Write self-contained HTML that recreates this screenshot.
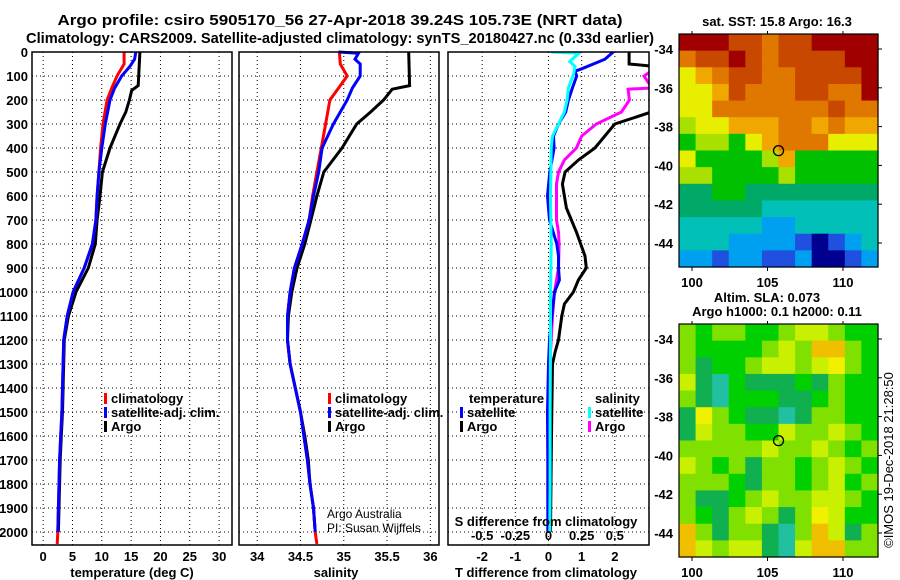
<!DOCTYPE html>
<html><head><meta charset="utf-8"><style>
html,body{margin:0;padding:0;background:#fff;}
svg{display:block;font-family:"Liberation Sans",sans-serif;}
.b{font-weight:bold;}
</style></head><body>
<svg id="s" width="900" height="580" viewBox="0 0 900 580">
<text x="340" y="25" text-anchor="middle" class="b" font-size="15" textLength="565" lengthAdjust="spacingAndGlyphs">Argo profile: csiro 5905170_56 27-Apr-2018 39.24S 105.73E (NRT data)</text>
<text x="340" y="43" text-anchor="middle" class="b" font-size="15" textLength="628" lengthAdjust="spacingAndGlyphs">Climatology: CARS2009. Satellite-adjusted climatology: synTS_20180427.nc (0.33d earlier)</text>
<g id="g"></g>
</svg>
<script>
// ---- data ----
const depthTicks=[0,100,200,300,400,500,600,700,800,900,1000,1100,1200,1300,1400,1500,1600,1700,1800,1900,2000];
const tempTicks=[0,5,10,15,20,25,30];
const salTicks=[34,34.5,35,35.5,36];
const tdiffTicks=[-2,-1,0,1,2];
const sdiffTicks=[-0.5,-0.25,0,0.25,0.5];
const sdiffTickLabels=["-0.5","-0.25","0","0.25","0.5"];
const tClimDepth=[0,50,100,150,200,300,400,500,600,700,800,900,1000,1100,1200,1300,1400,1500,1600,1700,1800,1900,2000,2050];
const tClim=[13.8,13.8,12.6,11.7,10.9,10.2,9.8,9.5,9.2,9.0,8.4,7.0,5.1,4.1,3.5,3.4,3.3,3.2,3.0,2.8,2.7,2.6,2.5,2.4];
const tSatDepth=[0,30,60,100,150,200,300,400,500,600,700,800,900,1000,1100,1200,1300,1400,1500,1600,1700,1800,1900,2000];
const tSat=[15.8,15.6,14.8,13.4,12.2,11.4,10.6,10.0,9.5,9.2,9.0,8.4,7.0,5.1,4.1,3.5,3.4,3.3,3.2,3.0,2.8,2.7,2.6,2.5];
const tArgoDepth=[0,140,160,200,250,300,400,500,600,700,800,900,1000,1100,1200,1300,1400,1500,1600,1700,1800,1900,2000];
const tArgo=[16.5,16.2,15.1,14.7,14.1,13.1,11.4,10.1,9.7,9.2,8.9,7.7,5.6,4.3,3.6,3.5,3.4,3.3,3.1,2.9,2.8,2.7,2.6];
const sClimDepth=[0,50,100,150,200,300,400,500,600,700,800,900,1000,1100,1200,1300,1400,1500,1600,1700,1800,1900,2000,2050];
const sClim=[34.95,34.96,35.04,34.94,34.84,34.79,34.74,34.69,34.64,34.6,34.52,34.43,34.38,34.35,34.35,34.38,34.44,34.5,34.54,34.58,34.61,34.65,34.67,34.69];
const sSatDepth=[0,5,30,50,100,150,200,300,400,500,600,700,800,900,1000,1100,1200,1300,1400,1500,1600,1700,1800,1900,2000];
const sSat=[34.94,35.17,35.13,35.19,35.19,35.1,35.04,34.88,34.75,34.71,34.65,34.6,34.52,34.43,34.38,34.35,34.35,34.38,34.44,34.5,34.54,34.58,34.61,34.65,34.67];
const sArgoDepth=[0,140,155,200,250,300,400,500,600,700,800,900,1000,1100,1200,1300,1400,1500,1600,1700,1800,1900,2000];
const sArgo=[35.75,35.76,35.56,35.46,35.31,35.15,34.98,34.77,34.69,34.62,34.55,34.46,34.4,34.36,34.35,34.38,34.44,34.5,34.55,34.59,34.61,34.65,34.67];
const dtSatDepth=[0,30,70,80,100,150,200,250,300,350,400,500,600,700,800,850,900,950,1000,1100,1200,1300,1500,1700,2000];
const dtSat=[1.95,1.7,1.0,0.8,0.85,0.72,0.6,0.52,0.3,0.15,0.17,0.04,-0.03,0.03,0.25,0.3,0.3,0.33,0.18,0.1,0.03,0.0,-0.03,-0.02,-0.02];
const dtArgoDepth=[0,50,60,250,300,400,450,500,550,650,750,850,900,950,1000,1050,1100,1200,1250,1300,1500,1700,2000];
const dtArgo=[2.43,2.43,3.2,3.1,2.0,1.4,0.9,0.5,0.42,0.54,0.84,1.1,1.14,0.9,0.75,0.48,0.4,0.3,0.2,0.12,0.1,0.08,0.06];
const dsSatDepth=[0,5,20,40,60,90,150,200,250,300,350,400,600,800,1000,1200,1500,1800,2000];
const dsSat=[0.02,0.23,0.2,0.16,0.2,0.19,0.15,0.14,0.12,0.075,0.03,0.02,0.015,0.02,0.015,0.015,0.012,0.012,0.01];
const dsArgoDepth=[70,100,150,155,200,250,300,350,400,450,500,550,700,750,800,900,1000,1100,1250,1400,1600,1800,2000];
const dsArgo=[0.8,0.72,0.78,0.6,0.61,0.55,0.36,0.25,0.21,0.12,0.075,0.06,0.06,0.075,0.08,0.075,0.045,0.03,0.015,0.01,0.01,0.005,0.0];
const mapLonTicks=[100,105,110];
const mapLatTicks=[-34,-36,-38,-40,-42,-44];
const argoLon=105.73, argoLat=-39.24;
const sstPalette=["#a00000","#c84800","#e07800","#f0a800","#e8ee00","#a8e000","#00c000","#00a868","#00c0b8","#00a0f0","#2050e0","#000090"];
const sstGrid=[
[0,0,0,1,1,2,1,1,0,0,0,0],[2,1,1,0,1,2,1,1,1,1,0,0],[4,3,2,1,1,2,2,1,1,1,1,0],[4,4,3,1,2,2,2,1,1,2,2,0],
[4,4,2,2,2,2,2,2,2,1,2,2],[5,4,4,3,3,3,2,2,3,2,3,3],[6,5,5,6,4,3,2,2,2,4,4,4],[4,6,6,6,6,5,3,6,6,6,6,6],
[5,5,6,6,6,6,5,6,6,6,6,6],[7,7,6,6,7,7,7,7,7,7,7,7],[7,7,7,7,7,8,8,8,8,8,8,8],[8,8,8,8,8,9,9,8,8,8,8,8],
[8,8,8,9,9,9,9,10,11,10,9,8],[9,9,10,9,9,10,10,9,11,11,10,9]];
const slaPalette=["#00d000","#10b050","#20c0a0","#80e000","#c8f000","#f0f000","#f0c000"];
const slaGrid=[
[3,0,3,3,0,0,3,4,4,3,0,0],[3,0,0,0,0,3,4,3,6,6,3,0],[3,1,0,0,3,4,4,3,4,5,3,0],[4,1,2,0,1,1,1,0,1,3,0,0],
[3,1,2,0,0,0,1,1,0,3,0,0],[1,5,3,0,1,1,2,1,3,3,0,0],[1,4,3,3,0,0,4,3,3,4,3,0],[3,3,3,3,3,4,3,3,4,3,0,3],
[4,3,0,3,1,3,3,0,3,4,3,0],[3,3,3,0,1,3,3,0,3,4,0,3],[3,1,1,0,3,4,3,3,4,4,3,0],[3,0,1,3,4,3,1,3,5,4,0,0],
[6,3,1,3,3,1,2,3,6,4,1,3],[6,4,3,4,4,1,2,4,6,6,3,3]];

// ---- drawing ----
const NS="http://www.w3.org/2000/svg";
const G=document.getElementById('g');
function el(t,a,p){const e=document.createElementNS(NS,t);for(const k in a)e.setAttribute(k,a[k]);(p||G).appendChild(e);return e;}
function txt(x,y,s,sz,anchor,bold,p){const e=el('text',{x:x,y:y,'font-size':sz,'text-anchor':anchor||'middle','font-weight':bold?'bold':'normal'},p);e.textContent=s;return e;}
const yTop=52,yBot=545;
const yD=d=>yTop+d*0.24;
const panels=[{x0:32,x1:232,lo:-1.9,hi:32.2},{x0:239,x1:439,lo:33.79,hi:36.1},{x0:448,x1:649,lo:-3.03,hi:3.03}];
function sx(p,v){return p.x0+(v-p.lo)/(p.hi-p.lo)*(p.x1-p.x0);}
function grid(p,ticks,name){
  const g=el('g',{});
  
  
  ticks.forEach(t=>el('line',{x1:sx(p,t),x2:sx(p,t),y1:yTop,y2:yBot,stroke:'#000','stroke-width':1,'stroke-dasharray':'1 3'},g));
  depthTicks.forEach(d=>el('line',{x1:p.x0,x2:p.x1,y1:yD(d),y2:yD(d),stroke:'#000','stroke-width':1,'stroke-dasharray':'1 3'},g));
}
function line(p,vals,deps,col,name,parent,conv){
  const pts=vals.map((v,i)=>sx(p,conv?conv(v):v).toFixed(1)+','+yD(deps[i]).toFixed(1)).join(' ');
  const e=el('polyline',{points:pts,fill:'none',stroke:col,'stroke-width':3},parent);
  
  
}
const defs=el('defs',{});
const clip=el('clipPath',{id:'c3'},defs);el('rect',{x:448,y:yTop,width:201,height:yBot-yTop},clip);
grid(panels[0],tempTicks,'temperature');grid(panels[1],salTicks,'salinity');grid(panels[2],tdiffTicks,'difference');
line(panels[0],tArgo,tArgoDepth,'#000','temp-argo-line');
line(panels[0],tClim,tClimDepth,'#ff0000','temp-climatology-line');
line(panels[0],tSat,tSatDepth,'#0000ff','temp-satellite-line');
line(panels[1],sArgo,sArgoDepth,'#000','sal-argo-line');
line(panels[1],sClim,sClimDepth,'#ff0000','sal-climatology-line');
line(panels[1],sSat,sSatDepth,'#0000ff','sal-satellite-line');
const g3=el('g',{'clip-path':'url(#c3)'});
line(panels[2],dtArgo,dtArgoDepth,'#000','tdiff-argo-line',g3);
line(panels[2],dsArgo,dsArgoDepth,'#ff00ff','sdiff-argo-line',g3,v=>v*4);
line(panels[2],dtSat,dtSatDepth,'#0000ff','tdiff-satellite-line',g3);
line(panels[2],dsSat,dsSatDepth,'#00ffff','sdiff-satellite-line',g3,v=>v*4);
panels.forEach((p,i)=>{const r=el('rect',{x:p.x0,y:yTop,width:p.x1-p.x0,height:yBot-yTop,fill:'none',stroke:'#000','stroke-width':1.5});
  
  });
const ya=el('g',{});


depthTicks.forEach(d=>txt(28,yD(d)+5,String(d),13,'end',true,ya));
const xa=el('g',{});


tempTicks.forEach(t=>txt(sx(panels[0],t),561,String(t),13,'middle',true,xa));
salTicks.forEach(t=>txt(sx(panels[1],t),561,String(t),13,'middle',true,xa));
tdiffTicks.forEach(t=>txt(sx(panels[2],t),561,String(t),13,'middle',true,xa));
sdiffTicks.forEach((t,i)=>txt(sx(panels[2],t*4),540,sdiffTickLabels[i],13,'middle',true,xa));
let e;
e=txt(132,577,'temperature (deg C)',13,'middle',true);
e=txt(336,577,'salinity',13,'middle',true);
e=txt(546,577,'T difference from climatology',13,'middle',true);
e=txt(546,526,'S difference from climatology',13,'middle',true);
function leg(x,y,col,label,name){const g=el('g',{});
  el('rect',{x:x,y:y-10,width:3,height:11,fill:col},g);txt(x+7,y,label,13,'start',true,g);}
leg(104,403,'#ff0000','climatology','legend-climatology');
leg(104,417,'#0000ff','satellite-adj. clim.','legend-satellite-adj');
leg(104,431,'#000','Argo','legend-argo');
leg(328,403,'#ff0000','climatology','legend2-climatology');
leg(328,417,'#0000ff','satellite-adj. clim.','legend2-satellite-adj');
leg(328,431,'#000','Argo','legend2-argo');
e=txt(469,403,'temperature',13,'start',true);
e=txt(595,403,'salinity',13,'start',true);
leg(460,417,'#0000ff','satellite','legend-tdiff-satellite');
leg(460,431,'#000','Argo','legend-tdiff-argo');
leg(588,417,'#00ffff','satellite','legend-sdiff-satellite');
leg(588,431,'#ff00ff','Argo','legend-sdiff-argo');
e=txt(327,518,'Argo Australia',12,'start',false);
e=txt(327,532,'PI: Susan Wijffels',12,'start',false);
function map(y0,grid,pal,name){
  const x0=679,x1=878,y1=y0+233;
  const lonX=v=>692+(v-100)*15.1, latY=v=>y0+15+(-34-v)*19.4;
  const g=el('g',{});
  const rows=grid.length,cols=grid[0].length,cw=(x1-x0)/cols,ch=(y1-y0)/rows;
  grid.forEach((r,i)=>r.forEach((v,j)=>{el('rect',{x:(x0+j*cw).toFixed(2),y:(y0+i*ch).toFixed(2),width:(cw+0.6).toFixed(2),height:(ch+0.6).toFixed(2),fill:pal[v]},g);}));
  el('rect',{x:x0,y:y0,width:x1-x0,height:y1-y0,fill:'none',stroke:'#000','stroke-width':1.2},g);
  mapLonTicks.forEach(t=>{el('line',{x1:lonX(t),x2:lonX(t),y1:y1,y2:y1+4,stroke:'#000'},g);el('line',{x1:lonX(t),x2:lonX(t),y1:y0,y2:y0-3,stroke:'#000'},g);txt(lonX(t),y1+20,String(t),13,'middle',true,g);});
  mapLatTicks.forEach(t=>{el('line',{x1:x1,x2:x1+4,y1:latY(t),y2:latY(t),stroke:'#000'},g);txt(673,latY(t)+5,String(t),13,'end',true,g);});
  const c=el('circle',{cx:lonX(argoLon),cy:latY(argoLat),r:5,fill:'none',stroke:'#000','stroke-width':1.3},g);
  
  
}
map(34,sstGrid,sstPalette,'sst-map');
map(324,slaGrid,slaPalette,'sla-map');
e=txt(777,26,'sat. SST: 15.8 Argo: 16.3',13,'middle',true);
e=txt(767,302,'Altim. SLA: 0.073',13,'middle',true);
e=txt(777,316,'Argo h1000: 0.1 h2000: 0.11',13,'middle',true);
e=txt(0,0,'©IMOS 19-Dec-2018 21:28:50',13,'middle',false);e.setAttribute('transform','translate(893,460) rotate(-90)');


</script>
</body></html>
